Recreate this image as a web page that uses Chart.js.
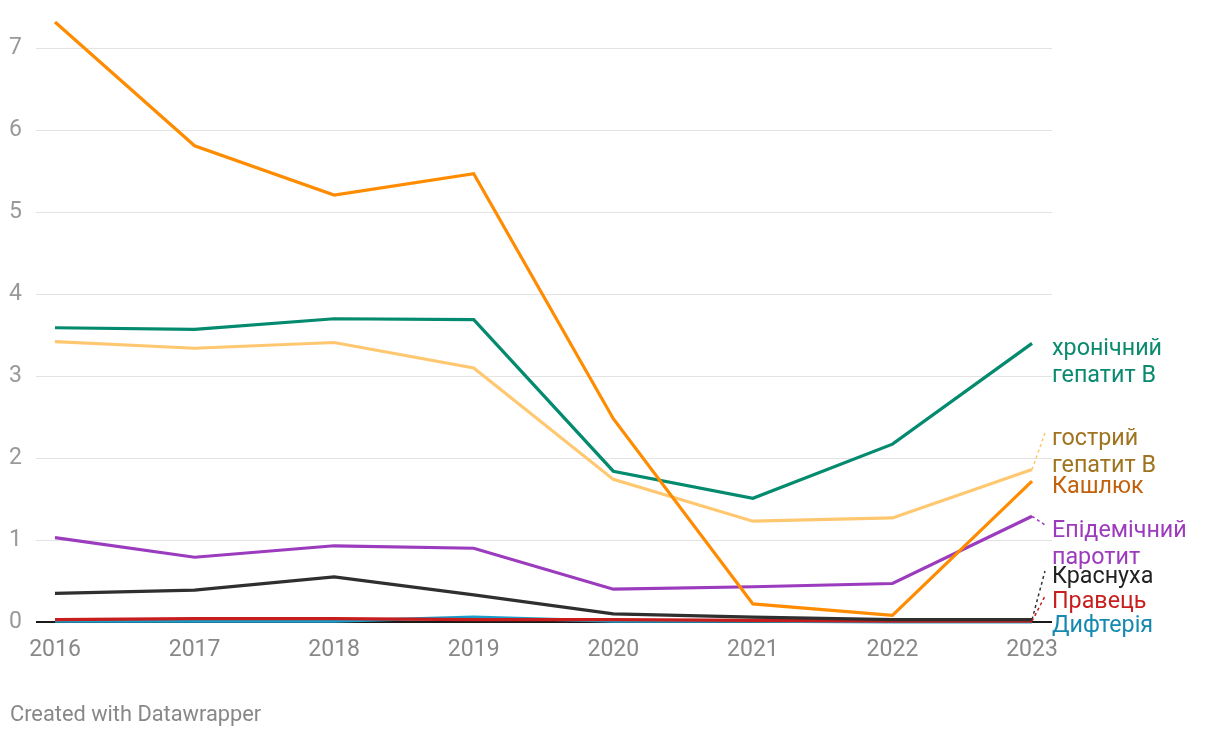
<!DOCTYPE html>
<html>
<head>
<meta charset="utf-8">
<script src="https://cdn.jsdelivr.net/npm/chart.js@4.4.1/dist/chart.umd.min.js"></script>
<style>
  html, body { margin: 0; padding: 0; background: #fff; }
  #wrap { position: relative; width: 1220px; height: 738px; }
  #footer { position: absolute; left: 10px; top: 701px; font: 21.8px Roboto, sans-serif; color: #888; }
</style>
</head>
<body>
<div id="wrap">
  <canvas id="grafico" width="1220" height="738"></canvas>
  <div id="footer">Created with Datawrapper</div>
</div>
<script>
// ==================== DATOS ====================
const anios = [2016, 2017, 2018, 2019, 2020, 2021, 2022, 2023];
const ticksY = [0, 1, 2, 3, 4, 5, 6, 7];

const krasnukha   = [0.35, 0.39, 0.55, 0.33, 0.10, 0.06, 0.03, 0.03];
const kashliuk    = [7.32, 5.81, 5.21, 5.47, 2.48, 0.22, 0.08, 1.72];
const parotyt     = [1.03, 0.79, 0.93, 0.90, 0.40, 0.43, 0.47, 1.29];
const khronHepB   = [3.59, 3.57, 3.70, 3.69, 1.84, 1.51, 2.17, 3.40];
const gostrHepB   = [3.42, 3.34, 3.41, 3.10, 1.74, 1.23, 1.27, 1.86];
const pravets     = [0.03, 0.04, 0.04, 0.03, 0.03, 0.02, 0.01, 0.01];
const dyfteriia   = [0.01, 0.01, 0.01, 0.06, 0.01, 0.01, 0.00, 0.00];

// Etiquetas a la derecha: líneas de texto, color, posición vertical (px) y si lleva conector
const etiquetas = [
    { lineas: ['хронічний', 'гепатит B'], color: '#0b8a6f', y: 349, idx: 3, conector: false },
    { lineas: ['гострий', 'гепатит B'], color: '#a0741f', y: 439, idx: 4, conector: true, linea: '#ffc86e' },
    { lineas: ['Кашлюк'], color: '#c2610a', y: 487, idx: 1, conector: false },
    { lineas: ['Епідемічний', 'паротит'], color: '#9c3bbd', y: 531, idx: 2, conector: true, linea: '#9c3bbd' },
    { lineas: ['Краснуха'], color: '#222222', y: 577, idx: 0, conector: true, linea: '#333333' },
    { lineas: ['Правець'], color: '#c81e1e', y: 602, idx: 5, conector: true, linea: '#c81e1e' },
    { lineas: ['Дифтерія'], color: '#1689b0', y: 626, idx: 6, conector: false }
];

const FUENTE = 'Roboto, sans-serif';

function serie(datos, color) {
    return {
        data: anios.map((a, i) => ({ x: a, y: datos[i] })),
        borderColor: color,
        borderWidth: 3.2,
        pointRadius: 0,
        tension: 0,
        fill: false,
        clip: false
    };
}

// ==================== PLUGIN ETIQUETAS ====================
const pluginEtiquetas = {
    id: 'etiquetas',
    afterDatasetsDraw(chart) {
        const ctx = chart.ctx;
        const xs = chart.scales.x;
        const ys = chart.scales.y;
        const xTexto = chart.chartArea.right;
        ctx.save();
        ctx.font = '23.3px ' + FUENTE;
        ctx.textBaseline = 'middle';
        ctx.textAlign = 'left';
        etiquetas.forEach(et => {
            const datos = chart.data.datasets[et.idx].data;
            const ultimo = datos[datos.length - 1];
            if (et.conector) {
                const px = xs.getPixelForValue(ultimo.x);
                const py = ys.getPixelForValue(ultimo.y);
                ctx.save();
                ctx.strokeStyle = et.linea;
                ctx.lineWidth = 1.5;
                ctx.setLineDash([3, 3]);
                ctx.beginPath();
                ctx.moveTo(px, py);
                ctx.lineTo(xTexto - 7, et.y - 6);
                ctx.stroke();
                ctx.restore();
            }
            ctx.fillStyle = et.color;
            et.lineas.forEach((t, i) => ctx.fillText(t, xTexto, et.y + i * 27));
        });
        ctx.restore();
    }
};

// ==================== GRÁFICO ====================
const grafico = new Chart(document.getElementById('grafico'), {
    type: 'line',
    data: {
        datasets: [
            serie(krasnukha, '#2f2f2f'),
            serie(kashliuk, '#ff8c00'),
            serie(parotyt, '#9b3bbd'),
            serie(khronHepB, '#048a6e'),
            serie(gostrHepB, '#ffc870'),
            serie(pravets, '#c71e1d'),
            serie(dyfteriia, '#1a9ec9')
        ]
    },
    options: {
        responsive: false,
        animation: false,
        layout: { padding: { left: 0, right: 168, top: 6, bottom: 66 } },
        plugins: { legend: { display: false }, tooltip: { enabled: false } },
        scales: {
            x: {
                type: 'linear',
                min: 2015.864,
                max: 2023.143,
                afterBuildTicks: s => { s.ticks = anios.map(v => ({ value: v })); },
                afterFit: s => { s.height = 50; },
                grid: { display: false },
                border: { display: false },
                ticks: {
                    autoSkip: false,
                    maxRotation: 0,
                    padding: 6,
                    color: '#888',
                    font: { family: FUENTE, size: 23 },
                    callback: v => String(v)
                }
            },
            y: {
                min: 0,
                max: 7.25,
                afterBuildTicks: s => { s.ticks = ticksY.map(v => ({ value: v })); },
                afterFit: s => { s.width = 36; },
                border: { display: false },
                grid: {
                    drawTicks: false,
                    color: c => c.tick && c.tick.value === 0 ? '#1a1a1a' : '#e3e3e3',
                    lineWidth: c => c.tick && c.tick.value === 0 ? 2 : 1
                },
                ticks: {
                    padding: 14,
                    color: '#999',
                    font: { family: FUENTE, size: 23 }
                }
            }
        }
    },
    plugins: [pluginEtiquetas]
});
</script>
</body>
</html>
